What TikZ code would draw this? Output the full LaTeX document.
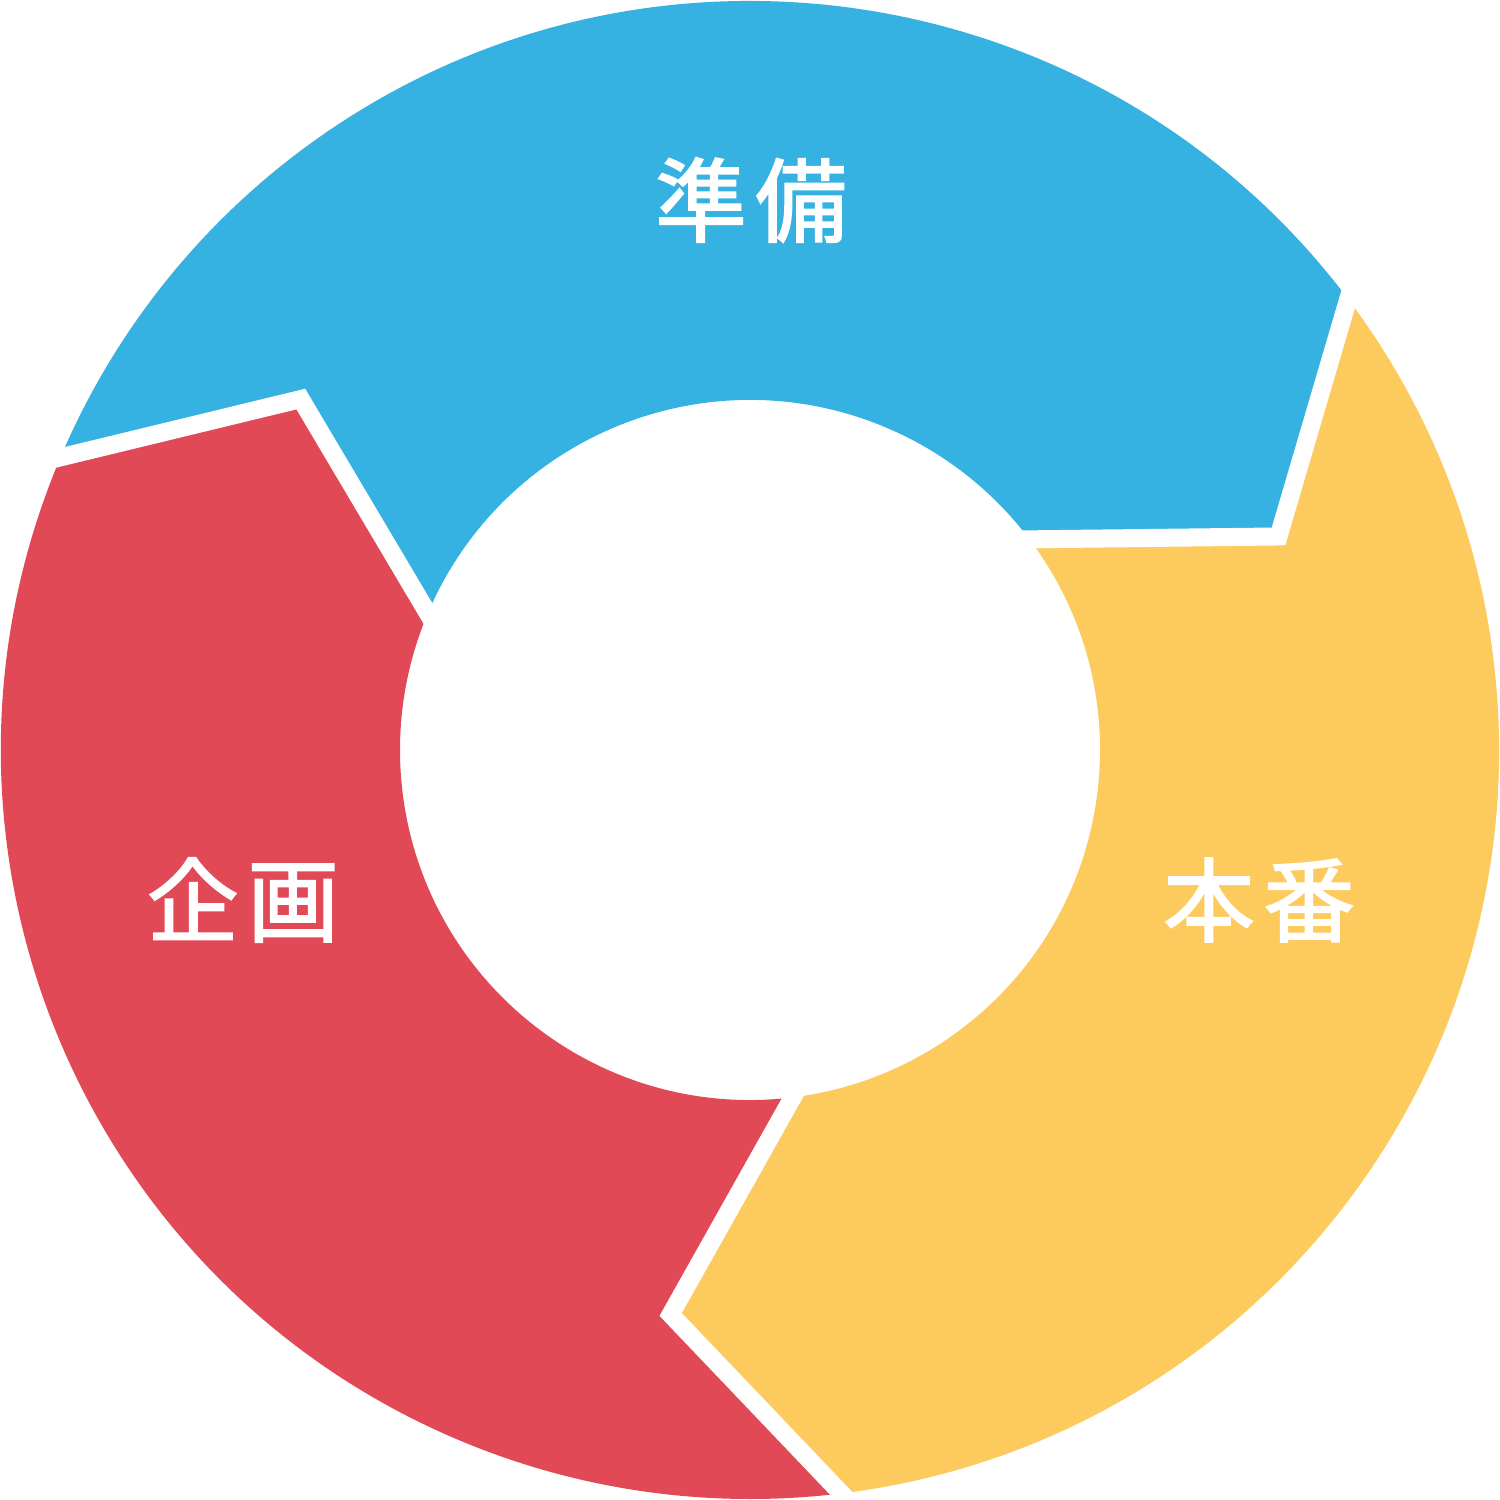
\documentclass[tikz,border=0pt]{standalone}
\usepackage{fontspec}
\usetikzlibrary{calc}
\newfontfamily\cjk{Noto Sans CJK JP}
\definecolor{cblue}{HTML}{35B1E2}
\definecolor{cyellow}{HTML}{FDCA5E}
\definecolor{cred}{HTML}{E24957}
\begin{document}
\begin{tikzpicture}[x=0.01cm,y=0.01cm,
  gapline/.style={draw=white,line width=18*0.2845pt,line join=miter},
  lbl/.style={text=white,font=\cjk\fontsize{26}{26}\selectfont\addfontfeatures{FakeBold=2},inner sep=0pt}]
\useasboundingbox (-750,-750) rectangle (750,750);
\def\ro{749}\def\ri{350}\def\rt{570}
% blue segment (37 -> 157)
\fill[cblue] (37:\ro) arc[start angle=37,end angle=157,radius=\ro] -- (142:\rt) -- (157:\ri)
  arc[start angle=157,end angle=37,radius=\ri] -- (22:\rt) -- cycle;
% red segment (157 -> 277)
\fill[cred] (157:\ro) arc[start angle=157,end angle=277,radius=\ro] -- (262:\rt) -- (277:\ri)
  arc[start angle=277,end angle=157,radius=\ri] -- (142:\rt) -- cycle;
% yellow segment (277 -> 397)
\fill[cyellow] (277:\ro) arc[start angle=277,end angle=397,radius=\ro] -- (382:\rt) -- (397:\ri)
  arc[start angle=397,end angle=277,radius=\ri] -- (262:\rt) -- cycle;
% white gaps
\coordinate (g1o) at (37:\ro); \coordinate (g1t) at (22:\rt); \coordinate (g1i) at (37:\ri);
\coordinate (g2o) at (157:\ro); \coordinate (g2t) at (142:\rt); \coordinate (g2i) at (157:\ri);
\coordinate (g3o) at (277:\ro); \coordinate (g3t) at (262:\rt); \coordinate (g3i) at (277:\ri);
\draw[gapline] ($(g1t)!1.2!(g1o)$) -- (g1t) -- ($(g1t)!1.1!(g1i)$);
\draw[gapline] ($(g2t)!1.2!(g2o)$) -- (g2t) -- ($(g2t)!1.1!(g2i)$);
\draw[gapline] ($(g3t)!1.2!(g3o)$) -- (g3t) -- ($(g3t)!1.1!(g3i)$);
% labels
\node[lbl] (t1) at (1,550) {準\hspace{2.5pt}備};
\node[lbl] (t2) at (509,-150) {本\hspace{2.5pt}番};
\node[lbl] (t3) at (-507,-150) {企\hspace{2.5pt}画};
\end{tikzpicture}
\end{document}
